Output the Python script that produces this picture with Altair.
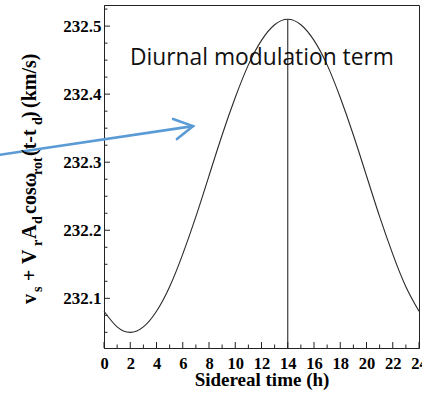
import altair as alt
import pandas as pd

# ---- data ----
sidereal_hours = list(range(25))
speed_kms = [232.081, 232.058, 232.050, 232.058, 232.081, 232.117, 232.165,
             232.220, 232.280, 232.340, 232.395, 232.443, 232.479, 232.502,
             232.510, 232.502, 232.479, 232.443, 232.395, 232.340, 232.280,
             232.220, 232.165, 232.117, 232.081]

x_major_ticks = list(range(0, 25, 2))
x_minor_ticks = list(range(1, 24, 2))
y_major_ticks = [232.1, 232.2, 232.3, 232.4, 232.5]
y_minor_ticks = [232.05, 232.075, 232.125, 232.15, 232.175, 232.225, 232.25,
                 232.275, 232.325, 232.35, 232.375, 232.425, 232.45, 232.475,
                 232.525]

peak_time = [14]
peak_value = [232.51]
floor_value = [232.027]

X_DOMAIN = [0, 24]
Y_DOMAIN = [232.027, 232.531]

annotation_text = ["Diurnal modulation term"]
annotation_x = [1.98]
annotation_y = [232.443]

arrow_shaft_x = [-7.92, 6.78]
arrow_shaft_y = [232.311, 232.353]
arrow_head_x = [5.26, 6.78, 5.56]
arrow_head_y = [232.3635, 232.353, 232.334]

# y-axis title pieces (rich text: main text and subscripts)
ylabel_pieces = ["v", "s", "+", "V", "r", "A", "d", "cosω", "rot", "(t-t", "d", ")", "(km/s)"]
ylabel_is_sub = [False, True, False, False, True, False, True, False, True, False, True, False, False]
ylabel_start = [299, 287, 276, 259, 241, 234, 219, 209, 170, 151, 120, 113, 103]  # layout (px)

# ---- build ----
SERIF = "Liberation Serif"
W, H = 315, 343

xs = alt.Scale(domain=X_DOMAIN, nice=False, zero=False)
ys = alt.Scale(domain=Y_DOMAIN, nice=False, zero=False)

label_style = dict(labelFont=SERIF, labelFontWeight="bold",
                   labelColor="black", labelFlush=False, labelOverlap=False)

x_axis = alt.Axis(values=x_major_ticks, title="Sidereal time (h)", titleY=37,
                  titleBaseline="alphabetic", labelPadding=7, labelFontSize=16.5,
                  **label_style)
y_axis = alt.Axis(values=y_major_ticks, format=".1f", title="", labelPadding=3,
                  labelFontSize=17, **label_style)


def X(f):
    return alt.X(f, scale=xs, axis=x_axis)


def Y(f):
    return alt.Y(f, scale=ys, axis=y_axis)


curve_df = pd.DataFrame({"t": sidereal_hours, "v": speed_kms})

curve = alt.Chart(curve_df).mark_line(
    color="#2a2a2a", strokeWidth=1.1, interpolate="natural"
).encode(x=X("t:Q"), y=Y("v:Q"))

vline = alt.Chart(pd.DataFrame({"t": peak_time, "v": peak_value, "v0": floor_value})).mark_rule(
    color="#2a2a2a", strokeWidth=1.1
).encode(x=X("t:Q"), y=Y("v:Q"), y2="v0:Q")

xmaj = alt.Chart(pd.DataFrame({"t": x_major_ticks})).mark_rule(color="#222").encode(
    x=X("t:Q"), y=alt.value(H), y2=alt.value(H - 6))
xmin = alt.Chart(pd.DataFrame({"t": x_minor_ticks})).mark_rule(color="#222").encode(
    x=X("t:Q"), y=alt.value(H), y2=alt.value(H - 3.5))
ymaj = alt.Chart(pd.DataFrame({"v": y_major_ticks})).mark_rule(color="#222").encode(
    y=Y("v:Q"), x=alt.value(0), x2=alt.value(6))
ymin = alt.Chart(pd.DataFrame({"v": y_minor_ticks})).mark_rule(color="#222").encode(
    y=Y("v:Q"), x=alt.value(0), x2=alt.value(3.5))

note = alt.Chart(pd.DataFrame({"t": annotation_x, "v": annotation_y, "txt": annotation_text})).mark_text(
    align="left", baseline="alphabetic", font="Open Sans", fontSize=22.8, color="#111"
).encode(x=X("t:Q"), y=Y("v:Q"), text="txt:N")

arrow_df = pd.DataFrame({
    "t": arrow_shaft_x + arrow_head_x,
    "v": arrow_shaft_y + arrow_head_y,
    "part": ["shaft"] * 2 + ["head"] * 3,
    "k": [0, 1, 0, 1, 2],
})
arrow = alt.Chart(arrow_df).mark_line(
    color="#5B9BD5", strokeWidth=2.6, strokeCap="round", strokeJoin="miter", clip=False
).encode(x=X("t:Q"), y=Y("v:Q"), detail="part:N", order="k:Q")

label_layers = []
for piece, is_sub, py in zip(ylabel_pieces, ylabel_is_sub, ylabel_start):
    label_layers.append(
        alt.Chart(pd.DataFrame({"s": [piece]})).mark_text(
            angle=270, align="left", baseline="alphabetic", font=SERIF,
            fontWeight="bold", fontSize=14 if is_sub else 20, color="black"
        ).encode(x=alt.value(-62 if is_sub else -68.5), y=alt.value(py), text="s:N")
    )

chart = alt.layer(
    curve, vline, xmaj, xmin, ymaj, ymin, note, arrow, *label_layers
).properties(
    width=W, height=H,
    autosize=alt.AutoSizeParams(type="none"),
    padding={"left": 104, "top": 5, "right": 3, "bottom": 52},
    background="white",
).configure_view(
    stroke="#222", strokeWidth=1
).configure_axis(
    ticks=False, grid=False, domainColor="#222", domainWidth=1,
    labelFont=SERIF, labelFontWeight="bold", labelColor="black",
    labelFlush=False, labelOverlap=False,
    titleFont=SERIF, titleFontSize=19, titleFontWeight="bold", titleColor="black",
)

chart.save("out.html", embed_options={"renderer": "svg", "actions": False})
